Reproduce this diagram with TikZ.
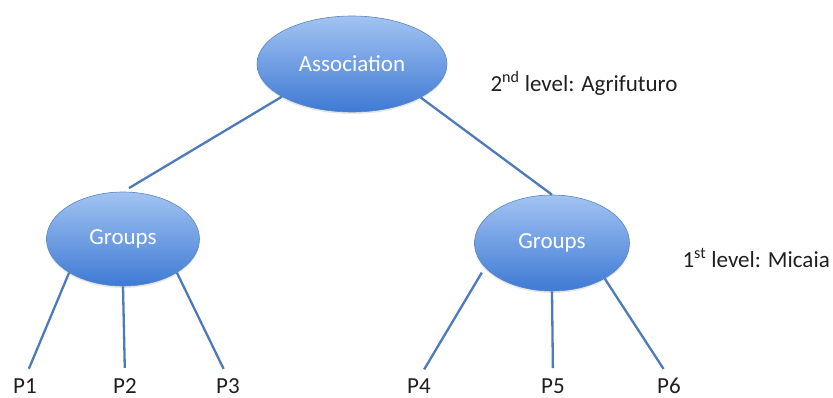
\documentclass[tikz,border=0pt]{standalone}
\usepackage{fontspec}
\setmainfont{Carlito}
\usepackage{tikz}
\usetikzlibrary{positioning, shapes.geometric, shadows}
\definecolor{ovaltop}{HTML}{A2C3F2}
\definecolor{ovalbottom}{HTML}{3E7AD4}
\definecolor{ovaledge}{HTML}{5A86C2}
\definecolor{linkblue}{HTML}{4D7AB8}
\definecolor{labeltext}{HTML}{1F1F1F}

\begin{document}
\begin{tikzpicture}[x=1pt, y=-1pt, font=\fontsize{23}{27}\selectfont,
    oval/.style={ellipse, top color=ovaltop, bottom color=ovalbottom, draw=ovaledge,
      line width=0.6pt, text=white, inner sep=0pt,
      drop shadow={opacity=0.2, shadow xshift=0pt, shadow yshift=-2pt}},
    leaf/.style={text=labeltext, inner sep=0pt, anchor=base},
    link/.style={linkblue, line width=2.3pt}]
  \useasboundingbox (0,0) rectangle (833,398);
  \node[oval, minimum width=190pt, minimum height=96pt] (assoc) at (352,64) {Association};
  \node[oval, minimum width=153pt, minimum height=94pt] (gl) at (123,239) {Groups};
  \node[oval, minimum width=155pt, minimum height=96pt] (gr) at (552,243) {Groups};
  % members
  \node[leaf] (p1) at (25,393) {P1};
  \node[leaf] (p2) at (125,393) {P2};
  \node[leaf] (p3) at (228,393) {P3};
  \node[leaf] (p4) at (419,393) {P4};
  \node[leaf] (p5) at (553,393) {P5};
  \node[leaf] (p6) at (669,393) {P6};
  % levels
  \node[text=labeltext, anchor=west] (lvl2) at (487,83) {2\textsuperscript{nd} level: Agrifuturo};
  \node[text=labeltext, anchor=west] (lvl1) at (679,258) {1\textsuperscript{st} level: Micaia};
  \draw[link, shorten >=7pt] (assoc.205) -- (gl.north);
  \draw[link] (assoc.334) -- (gr.north);
  \draw[link, shorten >=10pt] (gl.212) -- (p1.north);
  \draw[link, shorten >=10pt] (gl.south) -- (p2.north);
  \draw[link, shorten >=10pt] (gl.328) -- (p3.north);
  \draw[link, shorten <=6pt, shorten >=10pt] (gr.200) -- (p4.north);
  \draw[link, shorten >=10pt] (gr.south) -- (p5.north);
  \draw[link, shorten >=10pt] (gr.326) -- (p6.north);
\end{tikzpicture}
\end{document}
